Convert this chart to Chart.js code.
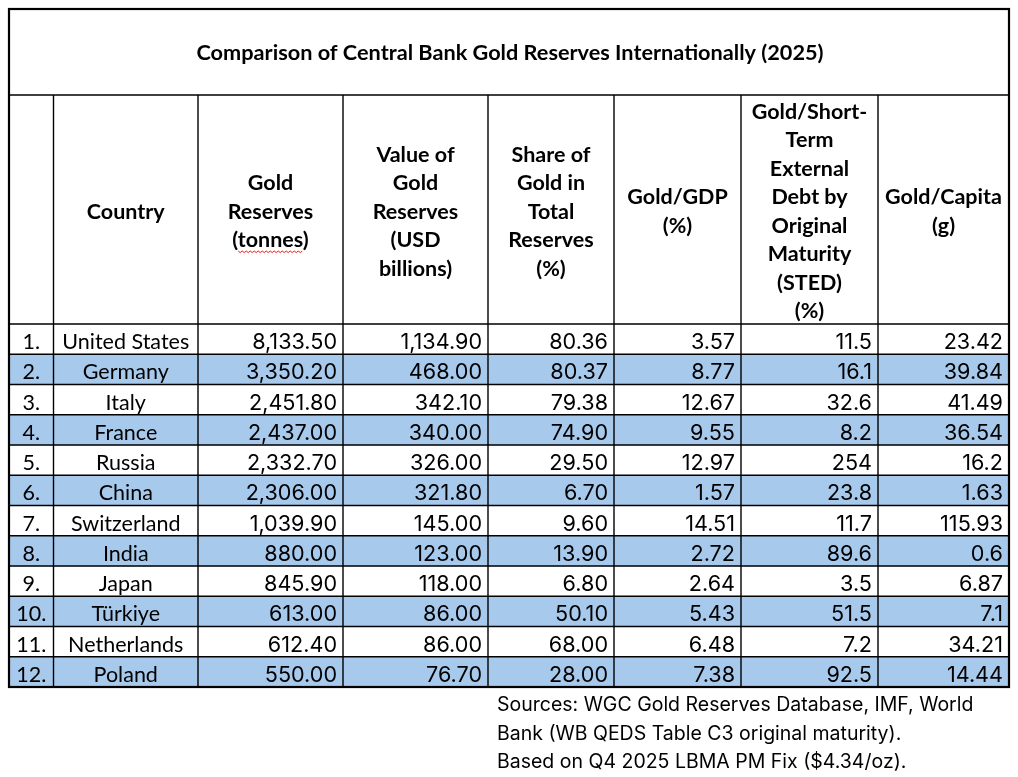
<!DOCTYPE html>
<html><head><meta charset="utf-8">
<script src="https://cdn.jsdelivr.net/npm/chart.js@4.4.1/dist/chart.umd.min.js"></script>
<style>html,body{margin:0;padding:0;background:#fff;} canvas{display:block;}</style>
</head><body>
<canvas id="c" width="1018" height="777" style="width:1018px;height:777px"></canvas>
<script>
// ---- data ----
const titleText = 'Comparison of Central Bank Gold Reserves Internationally (2025)';
const rowNums = ['1.','2.','3.','4.','5.','6.','7.','8.','9.','10.','11.','12.'];
const countries = ['United States','Germany','Italy','France','Russia','China','Switzerland','India','Japan','Türkiye','Netherlands','Poland'];
const goldTonnes = [8133.5, 3350.2, 2451.8, 2437.0, 2332.7, 2306.0, 1039.9, 880.0, 845.9, 613.0, 612.4, 550.0];
const valueUsdBn = [1134.9, 468.0, 342.1, 340.0, 326.0, 321.8, 145.0, 123.0, 118.0, 86.0, 86.0, 76.7];
const shareOfTotal = [80.36, 80.37, 79.38, 74.90, 29.50, 6.70, 9.60, 13.90, 6.80, 50.10, 68.00, 28.00];
const goldGdp = [3.57, 8.77, 12.67, 9.55, 12.97, 1.57, 14.51, 2.72, 2.64, 5.43, 6.48, 7.38];
const goldSted = [11.5, 16.1, 32.6, 8.2, 254, 23.8, 11.7, 89.6, 3.5, 51.5, 7.2, 92.5];
const goldCapita = [23.42, 39.84, 41.49, 36.54, 16.2, 1.63, 115.93, 0.6, 6.87, 7.1, 34.21, 14.44];
const headers = [
  [''],
  ['Country'],
  ['Gold','Reserves','(tonnes)'],
  ['Value of','Gold','Reserves','(USD','billions)'],
  ['Share of','Gold in','Total','Reserves','(%)'],
  ['Gold/GDP','(%)'],
  ['Gold/Short-','Term','External','Debt by','Original','Maturity','(STED)','(%)'],
  ['Gold/Capita','(g)']
];
const sourceLines = [
  'Sources: WGC Gold Reserves Database, IMF, World',
  'Bank (WB QEDS Table C3 original maturity).',
  'Based on Q4 2025 LBMA PM Fix ($4.34/oz).'
];

// ---- layout / style ----
const colWidths = [44.5, 144.5, 145, 145, 126, 127, 137, 131];
const tableWidth = colWidths.reduce((a,b)=>a+b,0);
const titleHeight = 86, headerHeight = 229;
const stripeColor = '#A7C9EC';
const titleFont = 'bold 21.7px Lato';
const headFont = 'bold 21.5px Lato';
const cellFont = '21.5px Lato';
const numFont = '21.6px Inter';
const srcFont = '19.5px Inter';

const fmt2 = v => v.toLocaleString('en-US',{minimumFractionDigits:2, maximumFractionDigits:2});
const columns = [
  {vals: rowNums, align:'center', font: cellFont},
  {vals: countries, align:'center', font: cellFont},
  {vals: goldTonnes.map(fmt2), align:'right', font: numFont},
  {vals: valueUsdBn.map(fmt2), align:'right', font: numFont},
  {vals: shareOfTotal.map(fmt2), align:'right', font: numFont},
  {vals: goldGdp.map(fmt2), align:'right', font: numFont},
  {vals: goldSted.map(String), align:'right', font: numFont},
  {vals: goldCapita.map(String), align:'right', font: numFont}
];

const tablePlugin = {
  id: 'tablePlugin',
  beforeDraw(chart){
    const c = chart.ctx; c.save(); c.fillStyle='#fff'; c.fillRect(0,0,chart.width,chart.height); c.restore();
  },
  afterDatasetsDraw(chart){
    const {ctx, chartArea: ca, scales: {x, y}} = chart;
    const edges = [0]; colWidths.forEach(w => edges.push(edges[edges.length-1] + w));
    const xs = edges.map(e => x.getPixelForValue(e));
    const band = y.getPixelForValue(1) - y.getPixelForValue(0);
    const headerTop = ca.top - headerHeight;
    const titleTop = headerTop - titleHeight;
    ctx.save();
    ctx.fillStyle = '#000';
    // title
    ctx.font = titleFont;
    ctx.textAlign = 'center'; ctx.textBaseline = 'alphabetic';
    ctx.fillText(titleText, (xs[0] + xs[xs.length-1]) / 2 + 1, (titleTop + headerTop) / 2 + 8);
    // headers
    const lh = 28.5;
    ctx.font = headFont;
    headers.forEach((lines, ci) => {
      const cx = (xs[ci] + xs[ci+1]) / 2;
      const cy = (headerTop + ca.top) / 2;
      const start = cy - (lines.length - 1) * lh / 2;
      lines.forEach((t, li) => {
        const by = start + li * lh + 9;
        ctx.textAlign = 'center';
        ctx.fillText(t, cx, by);
        if (t === '(tonnes)') {
          const w = ctx.measureText(t).width;
          const wp = ctx.measureText('(').width;
          const ww = ctx.measureText('tonnes').width;
          let sx = cx - w/2 + wp;
          ctx.save();
          ctx.strokeStyle = '#e02020'; ctx.lineWidth = 1;
          ctx.beginPath();
          let up = true;
          for (let px = sx; px <= sx + ww; px += 2) {
            const py = by + 4 + (up ? 0 : 1.6);
            if (px === sx) ctx.moveTo(px, py); else ctx.lineTo(px, py);
            up = !up;
          }
          ctx.stroke();
          ctx.restore();
        }
      });
    });
    // cells
    columns.forEach((col, ci) => {
      ctx.font = col.font;
      col.vals.forEach((v, ri) => {
        const cy = y.getPixelForValue(ri);
        const by = cy + 10;
        if (col.align === 'center') {
          ctx.textAlign = 'center';
          ctx.fillText(v, (xs[ci] + xs[ci+1]) / 2, by);
        } else {
          ctx.textAlign = 'right';
          ctx.fillText(v, xs[ci+1] - 6, by);
        }
      });
    });
    // sources
    ctx.font = srcFont; ctx.textAlign = 'left';
    sourceLines.forEach((t, i) => {
      ctx.fillText(t, xs[4] + 9, ca.bottom + 17 + 7 + i * 28.5);
    });
    // grid lines
    ctx.strokeStyle = '#000';
    ctx.lineWidth = 1.4;
    ctx.beginPath();
    ctx.moveTo(xs[0], headerTop); ctx.lineTo(xs[xs.length-1], headerTop);
    for (let r = 0; r < rowNums.length; r++) {
      const ty = y.getPixelForValue(r) - band/2;
      ctx.moveTo(xs[0], ty); ctx.lineTo(xs[xs.length-1], ty);
    }
    for (let i = 1; i < xs.length - 1; i++) {
      ctx.moveTo(xs[i], headerTop); ctx.lineTo(xs[i], ca.bottom);
    }
    ctx.stroke();
    ctx.lineWidth = 2.2;
    ctx.strokeRect(xs[0], titleTop, xs[xs.length-1] - xs[0], ca.bottom - titleTop);
    ctx.restore();
  }
};

new Chart(document.getElementById('c'), {
  type: 'bar',
  data: {
    labels: rowNums,
    datasets: [{
      data: rowNums.map((_, i) => i % 2 === 1 ? [0, tableWidth] : null),
      backgroundColor: stripeColor,
      borderWidth: 0,
      barPercentage: 1,
      categoryPercentage: 1
    }]
  },
  options: {
    indexAxis: 'y',
    responsive: false,
    animation: false,
    devicePixelRatio: 1,
    layout: { padding: { left: 9, right: 9, top: 324, bottom: 90 } },
    plugins: { legend: { display: false }, tooltip: { enabled: false }, title: { display: false } },
    scales: {
      x: { type: 'linear', min: 0, max: tableWidth, display: false },
      y: { type: 'category', display: false }
    }
  },
  plugins: [tablePlugin]
});
</script>
</body></html>
